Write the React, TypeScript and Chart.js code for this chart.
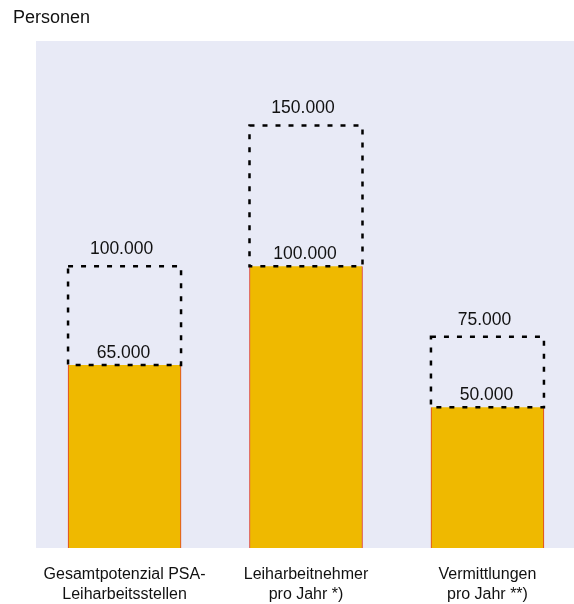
import React, { useEffect, useRef } from "react";
import { Chart, registerables } from "chart.js";

Chart.register(...registerables);

const categories: string[][] = [
  ["Gesamtpotenzial PSA-", "Leiharbeitsstellen"],
  ["Leiharbeitnehmer", "pro Jahr *)"],
  ["Vermittlungen", "pro Jahr **)"],
];
const baseValues = [65000, 100000, 50000];
const upperValues = [100000, 150000, 75000];
const axisTitle = "Personen";

const fmt = (v: number) => v.toLocaleString("de-DE");

export default function App() {
  const ref = useRef<HTMLCanvasElement | null>(null);

  useEffect(() => {
    if (!ref.current) return;

    const bgPlugin = {
      id: "plotBg",
      beforeDraw(chart: any) {
        const { ctx, chartArea } = chart;
        ctx.save();
        ctx.fillStyle = "#e8eaf6";
        ctx.fillRect(chartArea.left, chartArea.top, chartArea.right - chartArea.left, chartArea.bottom - chartArea.top);
        ctx.restore();
      },
    };

    const overlayPlugin = {
      id: "overlay",
      afterDatasetsDraw(chart: any) {
        const { ctx, scales } = chart;
        const xs = scales.x;
        const ys = scales.y;
        const meta = chart.getDatasetMeta(0);
        ctx.save();
        baseValues.forEach((v, i) => {
          const el: any = meta.data[i];
          const half = el.width / 2;
          const cx = xs.getPixelForValue(i);
          const yTop = ys.getPixelForValue(upperValues[i]);
          const yBase = ys.getPixelForValue(v);
          ctx.setLineDash([5, 8]);
          ctx.lineWidth = 2.5;
          ctx.strokeStyle = "#000";
          ctx.strokeRect(cx - half, yTop, half * 2, yBase - yTop);
          ctx.setLineDash([]);
          ctx.fillStyle = "#111";
          ctx.font = "17.5px Arial, 'Liberation Sans', sans-serif";
          ctx.textAlign = "center";
          ctx.textBaseline = "middle";
          ctx.fillText(fmt(upperValues[i]), cx - 3, yTop - 17);
          ctx.fillText(fmt(v), cx - 1, yBase - 12);
        });
        ctx.font = "18px Arial, 'Liberation Sans', sans-serif";
        ctx.textAlign = "left";
        ctx.textBaseline = "middle";
        ctx.fillStyle = "#111";
        ctx.fillText(axisTitle, 13, 18);
        ctx.restore();
      },
    };

    const chart = new Chart(ref.current, {
      type: "bar",
      data: {
        datasets: [
          {
            data: baseValues.map((v, i) => ({ x: i, y: v })),
            backgroundColor: "#efb900",
            borderColor: "#dc3a2a",
            borderWidth: { left: 1, right: 1, top: 0, bottom: 0 } as any,
            barThickness: 113,
          },
        ],
      },
      options: {
        animation: false,
        responsive: false,
        maintainAspectRatio: false,
        layout: { padding: { left: 36, top: 41, right: 0, bottom: 0 } },
        plugins: { legend: { display: false }, tooltip: { enabled: false }, title: { display: false } },
        scales: {
          x: {
            type: "linear",
            offset: false,
            min: -0.488,
            max: 2.477,
            grid: { display: false, drawTicks: false },
            border: { display: false },
            afterBuildTicks: (axis: any) => {
              axis.ticks = categories.map((_, i) => ({ value: i }));
            },
            afterFit: (axis: any) => {
              axis.height = 56;
            },
            ticks: {
              padding: 17,
              maxRotation: 0,
              autoSkip: false,
              color: "#111",
              font: { family: "Arial, 'Liberation Sans', sans-serif", size: 16, lineHeight: 1.25 },
              callback: (value: any) => categories[Math.round(Number(value))] ?? "",
            },
          },
          y: {
            display: false,
            min: 0,
            max: 180000,
          },
        },
      },
      plugins: [bgPlugin, overlayPlugin],
    });

    return () => chart.destroy();
  }, []);

  return (
    <div style={{ position: "fixed", left: 0, top: 0, width: 574, height: 604, background: "#fff" }}>
      <canvas ref={ref} width={574} height={604} style={{ width: 574, height: 604, display: "block" }} />
    </div>
  );
}
